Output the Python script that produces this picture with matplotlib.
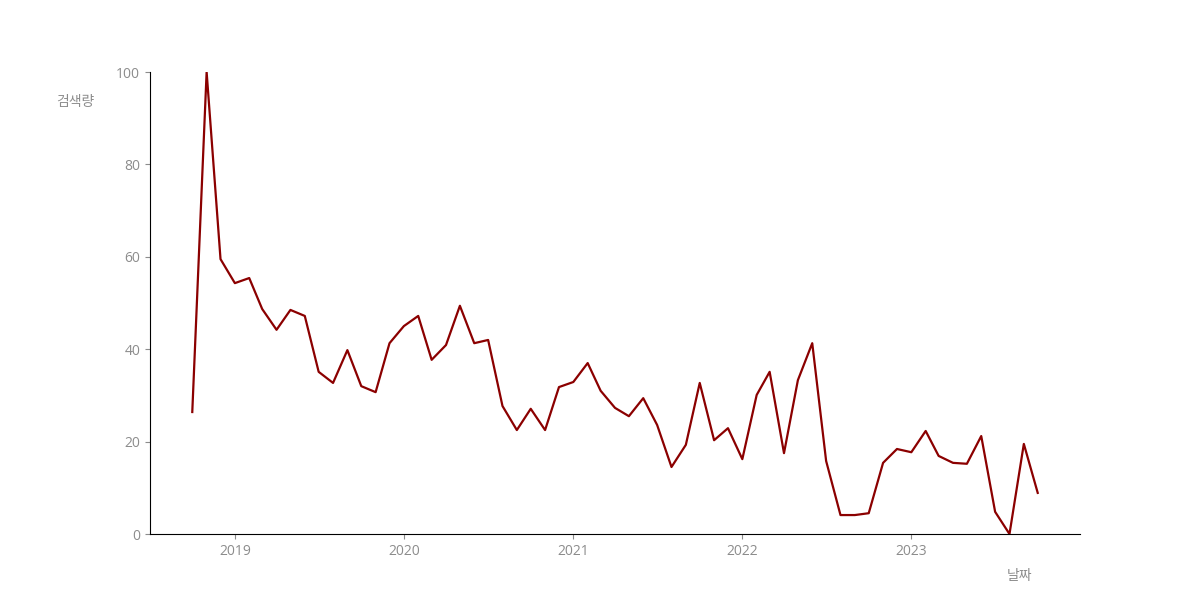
import matplotlib
matplotlib.use("Agg")
import matplotlib.pyplot as plt
import matplotlib.dates as mdates
import pandas as pd

plt.rcParams['font.family'] = ['Open Sans', 'Noto Sans CJK KR', 'DejaVu Sans']

dates = pd.date_range("2018-10-01", "2023-10-01", freq="MS")
values = [26.4, 100, 59.5, 54.3, 55.4, 48.7, 44.2, 48.5, 47.2, 35.1,
          32.7, 39.8, 32.0, 30.7, 41.3, 45.0, 47.2, 37.7, 40.9, 49.4,
          41.3, 42.0, 27.7, 22.5, 27.1, 22.5, 31.8, 32.9, 37.0, 31.0,
          27.3, 25.5, 29.4, 23.6, 14.5, 19.3, 32.7, 20.3, 22.9, 16.2,
          30.1, 35.1, 17.5, 33.3, 41.3, 15.8, 4.1, 4.1, 4.5, 15.4,
          18.4, 17.7, 22.3, 16.9, 15.4, 15.2, 21.2, 4.8, 0.0, 19.5, 8.9]
y_ticks = [0, 20, 40, 60, 80, 100]

fig, ax = plt.subplots(figsize=(12, 6), dpi=100)
ax.plot(dates, values, color='#8B0000', linewidth=1.6)
ax.set_ylim(0, 100)
ax.set_yticks(y_ticks)
ax.xaxis.set_major_locator(mdates.YearLocator())
ax.xaxis.set_major_formatter(mdates.DateFormatter('%Y'))

for s in ['top', 'right']:
    ax.spines[s].set_visible(False)
ax.tick_params(axis='both', colors='#8c8c8c', labelsize=10)
ax.spines['left'].set_color('black')
ax.spines['bottom'].set_color('black')

ax.text(-0.08, 0.933, '검색량', transform=ax.transAxes, ha='center', va='center',
        color='#8c8c8c', fontsize=10)
ax.text(0.935, -0.093, '날짜', transform=ax.transAxes, ha='center', va='center',
        color='#8c8c8c', fontsize=10)

fig.savefig('out.png', dpi=100)
